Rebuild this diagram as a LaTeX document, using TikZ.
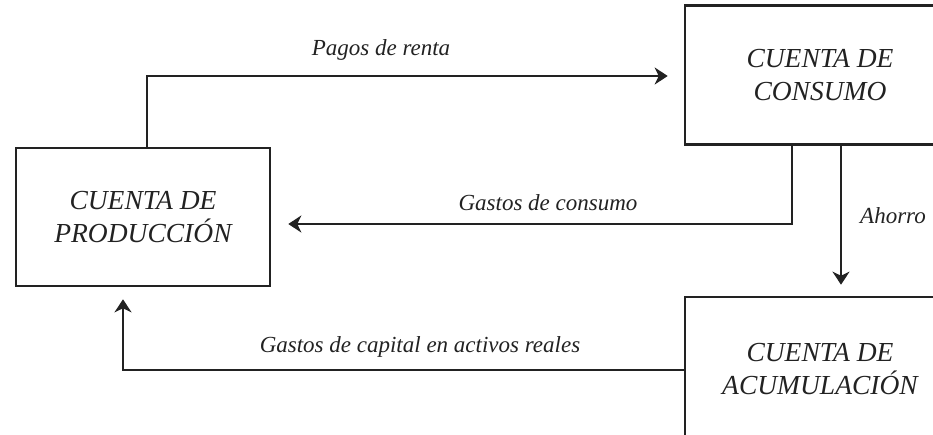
\documentclass[tikz,border=0pt]{standalone}
\usepackage{fontspec}
\setmainfont{Liberation Serif}
\usetikzlibrary{arrows.meta}
\definecolor{ink}{HTML}{222222}
\begin{document}
\begin{tikzpicture}[x=1pt,y=-1pt,
  acct/.style={draw=ink,line width=2.6pt,rectangle,inner sep=0pt,align=center,
    font=\fontsize{27.5}{33}\selectfont\itshape,text=ink},
  arr/.style={draw=ink,line width=2.4pt,-{Stealth[length=13pt,width=17pt,inset=4pt]}},
  lbl/.style={font=\fontsize{23}{27}\selectfont\itshape,text=ink,inner sep=0pt,anchor=base}]
\useasboundingbox (0,0) rectangle (933,434);
\clip (0,0) rectangle (933,434);
\node[acct,minimum width=254pt,minimum height=138pt] (prod) at (143,217) {CUENTA DE\\PRODUCCIÓN};
\node[acct,minimum width=270pt,minimum height=139pt] (cons) at (820,75) {CUENTA DE\\CONSUMO};
\node[acct,minimum width=270pt,minimum height=144pt] (acum) at (820,369) {CUENTA DE\\ACUMULACIÓN};
% Pagos de renta
\draw[arr] ([xshift=4pt]prod.north) |- ([xshift=-16pt,yshift=-1pt]cons.west);
\node[lbl] (lpagos) at (381,55) {Pagos de renta};
% Gastos de consumo
\draw[arr] ([xshift=-28pt]cons.south) |- ([xshift=17pt,yshift=-7pt]prod.east);
\node[lbl] (lgcons) at (548,210) {Gastos de consumo};
% Ahorro
\draw[arr] ([xshift=21pt]cons.south) -- ([xshift=21pt,yshift=11pt]acum.north);
\node[lbl] (lahorro) at (893,223) {Ahorro};
% Gastos de capital
\draw[arr] ([yshift=-1pt]acum.west) -| ([xshift=-20pt,yshift=-12pt]prod.south);
\node[lbl] (lgcap) at (420,352) {Gastos de capital en activos reales};
\end{tikzpicture}
\end{document}
